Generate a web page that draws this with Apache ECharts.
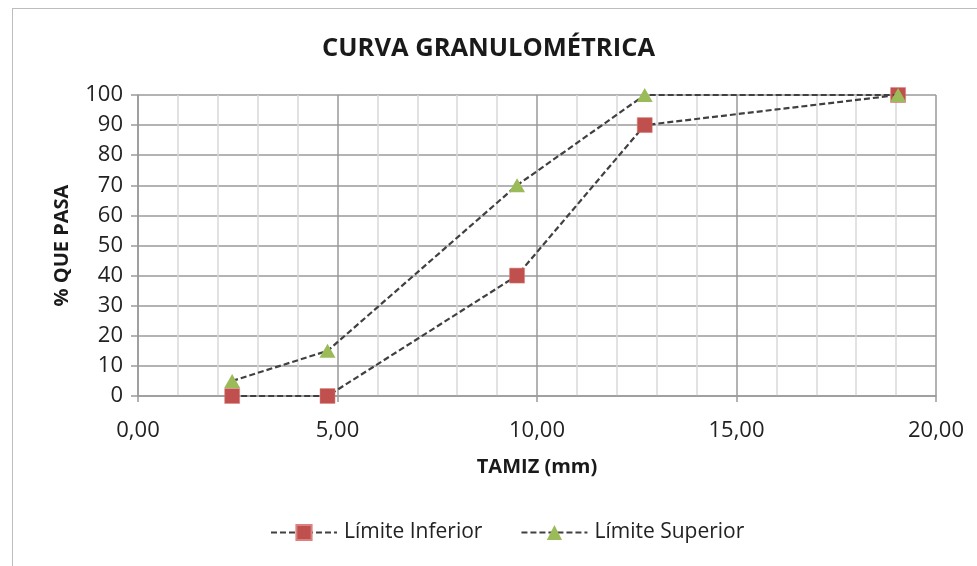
<!DOCTYPE html>
<html><head><meta charset="utf-8">
<script src="https://cdn.jsdelivr.net/npm/echarts@6/dist/echarts.min.js"></script>
<style>html,body{margin:0;padding:0;background:#fff}#c{width:977px;height:566px}
#frame{position:absolute;left:12px;top:8px;width:980px;height:600px;border:1px solid #bdbdbd;box-sizing:border-box;pointer-events:none}</style>
</head><body><div id="c"></div><div id="frame"></div>
<script>
const tamiz = [2.36, 4.75, 9.5, 12.7, 19.05];
const limiteInferior = [0, 0, 40, 90, 100];
const limiteSuperior = [5, 15, 70, 100, 100];
const seriesNames = ['Límite Inferior', 'Límite Superior'];

const font = '"Open Sans", "Noto Sans", sans-serif';
const chart = echarts.init(document.getElementById('c'));
chart.setOption({
  animation: false,
  textStyle: {fontFamily: font},
  title: {text: 'CURVA GRANULOMÉTRICA', left: 'center', top: 31,
    textStyle: {fontFamily: font, fontSize: 25.5, fontWeight: 'bold', color: '#1a1a1a'}},
  grid: {left: 138, right: 41, top: 95, bottom: 170, containLabel: false},
  legend: {top: 517, left: 265, itemWidth: 66, itemHeight: 19, itemGap: 38,
    textStyle: {fontFamily: font, fontSize: 21, color: '#222', padding: [0, 0, 0, 2]},
    data: seriesNames},
  xAxis: {type: 'value', min: 0, max: 20, interval: 5,
    name: 'TAMIZ (mm)', nameLocation: 'middle', nameGap: 61,
    nameTextStyle: {fontFamily: font, fontSize: 20, fontWeight: 'bold', color: '#1a1a1a'},
    axisLine: {show: true, onZero: false, lineStyle: {color: '#9a9a9a', width: 1.5}},
    axisTick: {show: true, length: 6, lineStyle: {color: '#9a9a9a', width: 1.5}},
    axisLabel: {fontFamily: font, fontSize: 22, color: '#222', margin: 24,
      formatter: v => v.toFixed(2).replace('.', ',')},
    splitLine: {show: true, lineStyle: {color: '#9a9a9a', width: 1.5}},
    minorTick: {show: false, splitNumber: 5},
    minorSplitLine: {show: true, lineStyle: {color: '#d9d9d9', width: 1.5}}
  },
  yAxis: {type: 'value', min: 0, max: 100, interval: 10,
    name: '% QUE PASA', nameLocation: 'middle', nameGap: 66, nameRotate: 90,
    nameTextStyle: {fontFamily: font, fontSize: 20, fontWeight: 'bold', color: '#1a1a1a'},
    axisLine: {show: true, lineStyle: {color: '#9a9a9a', width: 1.5}},
    axisTick: {show: true, length: 7, lineStyle: {color: '#9a9a9a', width: 1.5}},
    axisLabel: {fontFamily: font, fontSize: 22, color: '#222', margin: 15},
    splitLine: {show: true, lineStyle: {color: '#9a9a9a', width: 1.5}}
  },
  series: [
    {name: seriesNames[0], type: 'line', data: tamiz.map((x, i) => [x, limiteInferior[i]]),
      symbol: 'rect', symbolSize: 15,
      itemStyle: {color: '#C0504D', borderColor: '#d9827f', borderWidth: 0.5},
      lineStyle: {color: '#404040', type: [6, 3], width: 2.2}, z: 3},
    {name: seriesNames[1], type: 'line', data: tamiz.map((x, i) => [x, limiteSuperior[i]]),
      symbol: 'triangle', symbolSize: [16, 14],
      itemStyle: {color: '#9BBB59'},
      lineStyle: {color: '#404040', type: [6, 3], width: 2.2}, z: 4}
  ]
});
</script></body></html>
